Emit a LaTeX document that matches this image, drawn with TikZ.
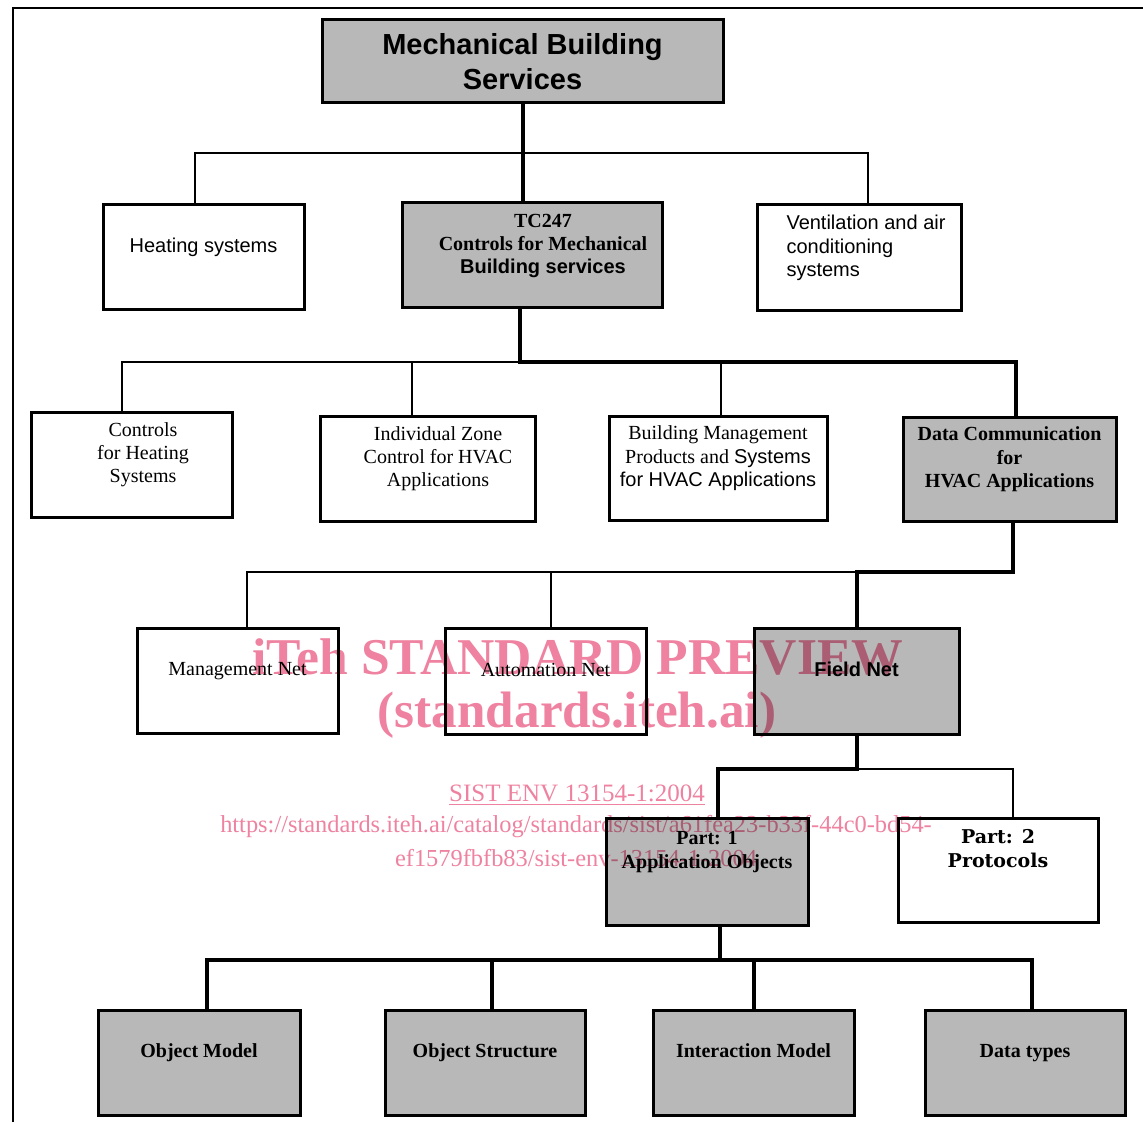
\documentclass[tikz,border=0pt]{standalone}
\usepackage{fontspec}
\setmainfont{Liberation Serif}
\newfontfamily\sans{Liberation Sans}
\newfontfamily\wideserif{DejaVu Serif}
\definecolor{boxgray}{gray}{0.72}
\definecolor{wmpink}{RGB}{238,130,160}
\renewcommand{\arraystretch}{0.96}
\newcommand{\boxtext}[2][2.3pt]{\raisebox{#1}[0pt][0pt]{\begin{tabular}{@{}c@{}}#2\end{tabular}}}

\begin{document}
\begin{tikzpicture}[x=0.5pt, y=-0.5pt,
    box/.style={draw, line width=1.5pt, inner sep=0pt, minimum width=100.5pt, minimum height=52.5pt},
    shaded/.style={box, fill=boxgray},
    link/.style={line width=0.6pt},
    trunk/.style={line width=2pt},
    wm/.style={text=wmpink, inner sep=0pt}]
       \useasboundingbox (0,0) rectangle (1143,1122);
       \node[shaded, minimum width=200.5pt, minimum height=41.5pt, font=\sans\bfseries\fontsize{14.5}{18.2}\selectfont] (1) at (522.5,61.5) {\boxtext[-5.4pt]{Mechanical Building\\Services}};
       \node[box] (2) at (203.5,257.5) {\boxtext{\sans Heating systems}};
       \node[shaded, minimum width=130pt] (3) at (532,255.5) {\hspace*{11pt}\boxtext{\textbf{TC247}\\\textbf{Controls for Mechanical}\\\sans\bfseries Building services}};
       \node[box, minimum width=102pt, minimum height=53pt] (4) at (859,258) {\hspace*{7pt}\raisebox{2.3pt}[0pt][0pt]{\sans\begin{tabular}{@{}l@{}}Ventilation and air\\conditioning\\systems\end{tabular}}};

       \node[box] (5) at (131.5,464.5) {\hspace*{11.5pt}\boxtext{Controls\\for Heating\\Systems}};
       \node[box, minimum width=107.5pt] (6) at (427.5,468.5) {\hspace*{10.5pt}\boxtext{Individual Zone\\Control for HVAC\\Applications}};
       \node[box, minimum width=109pt, minimum height=52pt] (7) at (718,468) {\boxtext{Building Management\\Products and {\sans Systems}\\\sans for HVAC Applications}};
       \node[shaded, minimum width=106.5pt, minimum height=52pt, font=\bfseries] (8) at (1009.5,469) {\boxtext{Data Communication\\for\\HVAC Applications}};

       \node[box] (9) at (237.5,680.5) {\boxtext{Management Net}};
       \node[box, minimum height=53pt] (10) at (545.5,681) {\boxtext{Automation Net}};
       \node[shaded, minimum width=102.5pt, minimum height=53pt] (11) at (856.5,681) {\boxtext{\sans\bfseries Field Net}};

       \node[shaded, minimum width=101pt, minimum height=53.5pt, font=\bfseries] (12) at (707,871.5) {\boxtext[7.3pt]{Part: 1\\Application Objects}};
       \node[box, minimum width=100pt, minimum height=52pt, font=\wideserif\bfseries\fontsize{9.5}{12}\selectfont] (13) at (998,870) {\boxtext[7.3pt]{Part: 2\\Protocols}};

       \node[shaded, minimum width=101pt, font=\bfseries] (14) at (199,1062.5) {\boxtext{Object Model}};
       \node[shaded, minimum width=100pt, font=\bfseries] (15) at (485,1062.5) {\boxtext{Object Structure}};
       \node[shaded, minimum width=100.5pt, font=\bfseries] (16) at (753.5,1062.5) {\boxtext{Interaction Model}};
       \node[shaded, minimum width=100pt, font=\bfseries] (17) at (1025,1062.5) {\boxtext{Data types}};

       % junctions
       \coordinate (a) at (522.5,153);
       \coordinate (b) at (520,362);
       \coordinate (c) at (856.5,572);
       \coordinate (d) at (856.5,769);
       \coordinate (e) at (720,960);

       \draw[trunk] (1.south) -- (1.south |- 3.north);
       \draw[link] ([xshift=-4.25pt]2.north) |- (a) -| ([xshift=4.5pt]4.north);

       \draw[trunk] ([xshift=-6pt]3.south) |- (b) -| ([xshift=3.25pt]8.north);
       \draw[link] ([xshift=-4.75pt]5.north) |- (b);
       \draw[link] ([xshift=-7.75pt]6.north) -- ([xshift=-7.75pt]6.north |- b);
       \draw[link] ([xshift=1.5pt]7.north) -- ([xshift=1.5pt]7.north |- b);

       \draw[trunk] ([xshift=1.75pt]8.south) |- (c) -- (11.north);
       \draw[link] ([xshift=4.75pt]9.north) |- (c);
       \draw[link] ([xshift=2.75pt]10.north) -- ([xshift=2.75pt]10.north |- c);

       \draw[trunk] (11.south) -- (d) -| ([xshift=5.5pt]12.north);
       \draw[link] (d) -| ([xshift=7.5pt]13.north);

       \draw[trunk] ([xshift=6.5pt]12.south) -- (e);
       \draw[trunk] ([xshift=4pt]14.north) |- (e) -| ([xshift=3.5pt]17.north);
       \draw[trunk] ([xshift=3.5pt]15.north) -- ([xshift=3.5pt]15.north |- e);
       \draw[trunk] (16.north) -- (16.north |- e);

       \draw[line width=1pt] (13,1122) -- (13,8) -- (1143,8);

       % watermark
       \begin{scope}[blend mode=multiply]
       \node[wm, font=\bfseries\fontsize{25.8}{25.8}\selectfont] (w1) at (578,657) {iTeh STANDARD PREVIEW};
       \node[wm, font=\bfseries\fontsize{25.6}{25.6}\selectfont] (w2) at (577,715) {(standards.iteh.ai)};
       \node[wm, font=\fontsize{12.5}{12.5}\selectfont] (w3) at (577,795) {\underline{SIST ENV 13154-1:2004}};
       \node[wm, font=\fontsize{12.2}{12.2}\selectfont] (w4) at (576,827) {https://standards.iteh.ai/catalog/standards/sist/a61fea23-b33f-44c0-bd54-};
       \node[wm, font=\fontsize{12.2}{12.2}\selectfont] (w5) at (576,858) {ef1579fbfb83/sist-env-13154-1-2004};
       \end{scope}
     \end{tikzpicture}
\end{document}
